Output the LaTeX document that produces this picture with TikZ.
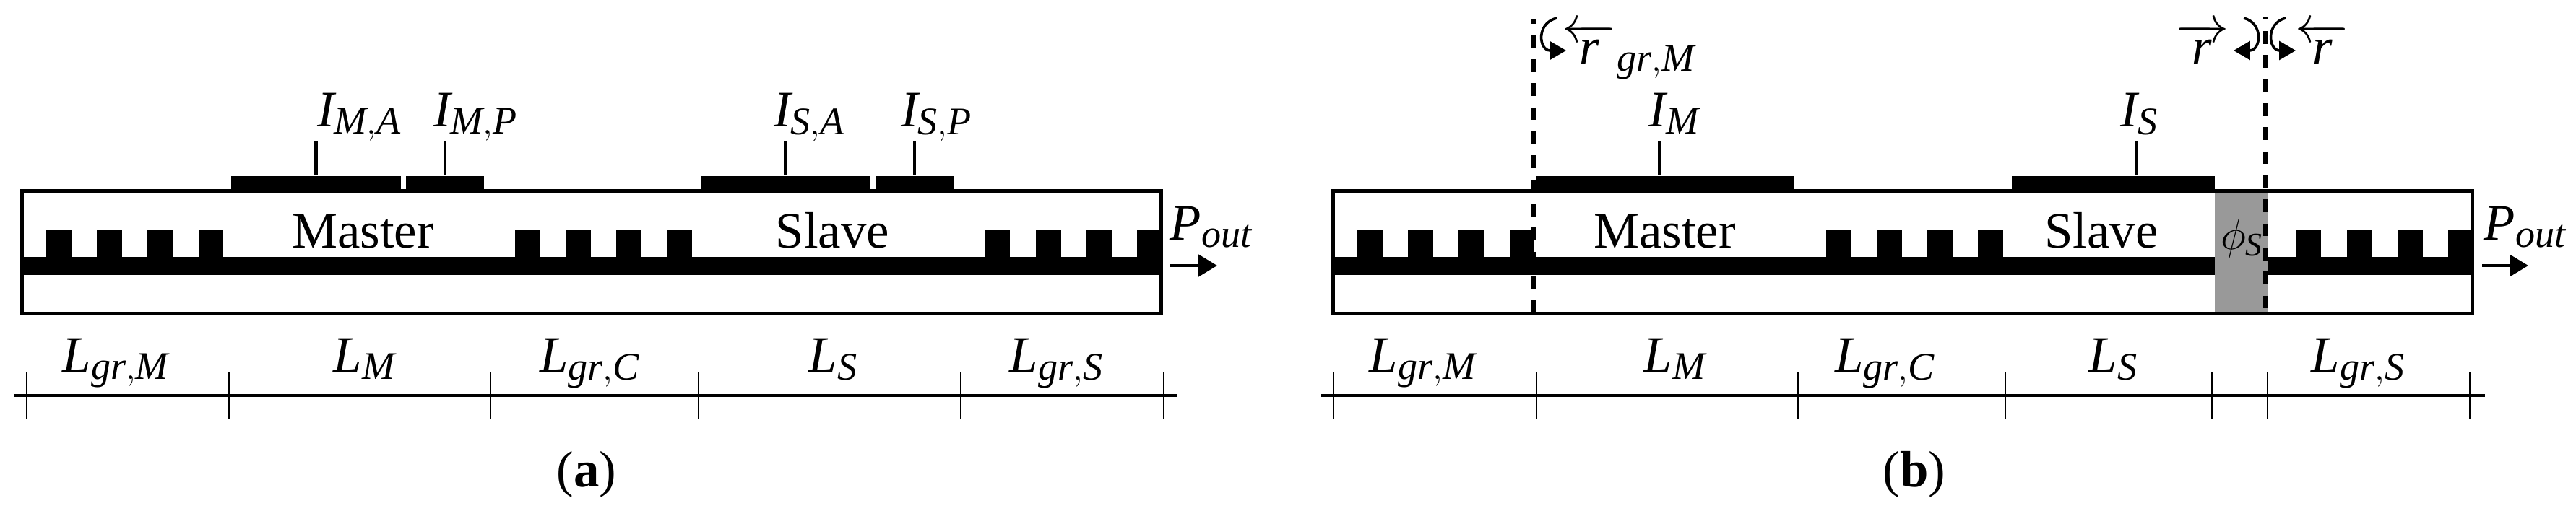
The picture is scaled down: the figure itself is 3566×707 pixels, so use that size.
\documentclass[tikz,border=0pt]{standalone}
\usepackage{fontspec}
\setmainfont{Liberation Serif}
\usetikzlibrary{arrows.meta,positioning}
\definecolor{phase}{HTML}{999999}
\DeclareMathSizes{17}{17}{13}{10}
\DeclareMathSizes{14}{14}{11}{9}
\newcommand{\lsym}[2]{$\mathit{#1}_{\mathit{#2}}$}
\newcommand{\rleft}{\overleftarrow{\mkern6mu\mathit{r}\mkern6mu}}
\newcommand{\rright}{\overrightarrow{\mkern6mu\mathit{r}\mkern6mu}}
\tikzset{
  cavity/.style  = {rectangle, draw=black, fill=white, line width=1.2pt,
                    inner sep=0pt, minimum height=40.8pt, minimum width=378.5pt},
  contact/.style = {rectangle, fill=black, inner sep=0pt, minimum height=4.5pt},
  lbl/.style     = {anchor=base, inner sep=0pt, font=\fontsize{17}{20}\selectfont},
  smalllbl/.style= {anchor=base, inner sep=0pt, font=\fontsize{14}{17}\selectfont},
  wire/.style    = {line width=1pt},
  tick/.style    = {line width=.6pt},
  dimline/.style = {line width=1pt},
  mirror/.style  = {line width=1.45pt, dash pattern=on 4.2pt off 3.8pt},
  outarr/.style  = {-{Triangle[length=6.2pt,width=7.2pt]}, line width=1.05pt},
  rotarr/.style  = {-{Triangle[length=5.5pt,width=6.2pt]}, line width=.85pt}
}
\begin{document}
\begin{tikzpicture}[x=.24pt,y=-.24pt]
  \useasboundingbox (0,0) rectangle (3566,707);
  % devices
  \node[cavity] (boxa) at (819,349.5) {};
  \node[cavity] (boxb) at (2634,349.5) {};
  \fill (30,356) rectangle (1607,381);
  \fill (1846,356) rectangle (3422,381);
  \foreach \o in {0,1815}
    \foreach \x/\w in {64/35,134/35,204/35,275/34,713/34,783/35,853/35,923/35,1363/35,1434/35,1504/35,1574/33}
      \fill (\x+\o,319) rectangle (\x+\o+\w,357);
  \fill[phase] (3066,267) rectangle (3139,432);
  % contacts
  \foreach \n/\x/\w/\d in {cma/437.5/235/0,cmp/616/108/0,csa/1087/234/0,csp/1266/108/0,cm/2305/358/-8,cs/2925.5/281/32.5}{
    \node[contact, minimum width=\w*.24pt] (\n) at (\x,253) {};
    \path (\n.north) ++(\d,0) coordinate (\n b) ++(0,-47) coordinate (\n t);
    \draw[wire] (\n b) -- (\n t);
  }
  % labels
  \node[lbl] (ima) at (498,175) {\lsym{I}{M,A}};
  \node[lbl] (imp) at (659,175) {\lsym{I}{M,P}};
  \node[lbl] (isa) at (1121,175) {\lsym{I}{S,A}};
  \node[lbl] (isp) at (1297,175) {\lsym{I}{S,P}};
  \node[lbl] (im) at (2318,175) {\lsym{I}{M}};
  \node[lbl] (is) at (2962,175) {\lsym{I}{S}};
  \node[lbl] (ma) at (502.5,343) {Master};
  \node[lbl] (sa) at (1152.5,343) {Slave};
  \node[lbl] (mb) at (2304.5,343) {Master};
  \node[lbl] (sb) at (2909,343) {Slave};
  \node[smalllbl] (phi) at (3104,345) {$\phi_{\mathit{S}}$};
  \node[lbl] (pa) at (1677,332) {\lsym{P}{out}};
  \node[lbl] (pb) at (3496,332) {\lsym{P}{out}};
  % output
  \coordinate (oa) at (1620,368);
  \coordinate (ob) at (3436,368);
  \draw[outarr] (oa) -- ++(65,0);
  \draw[outarr] (ob) -- ++(64,0);
  % mirrors
  \coordinate (mma) at (2123,27);
  \coordinate (mmb) at (2123,437);
  \coordinate (msa) at (3136,24);
  \coordinate (msb) at (3136,437);
  \draw[mirror, dash phase=2.76pt] (mma) -- (mmb);
  \draw[mirror, dash phase=3.4pt] (msa) -- (msb);
  % reflections
  \node[lbl] (rgm) at (2255,88) {$\rleft_{\mathit{gr,M}}$};
  \node[lbl] (rs) at (3048,88) {$\rright$};
  \node[lbl] (rp) at (3215,88) {$\rleft$};
  \coordinate (a1s) at (2155,25);
  \coordinate (a1e) at (2168,70);
  \coordinate (a2s) at (3164,25);
  \coordinate (a2e) at (3178,70);
  \coordinate (a3s) at (3106,25);
  \coordinate (a3e) at (3092,70);
  \draw[rotarr] (a1s) .. controls (2126,32) and (2130,70) .. (a1e);
  \draw[rotarr] (a2s) .. controls (3136,32) and (3140,70) .. (a2e);
  \draw[rotarr] (a3s) .. controls (3134,32) and (3130,70) .. (a3e);
  % lengths
  \coordinate (da) at (19,548);
  \coordinate (db) at (1630,548);
  \coordinate (dc) at (1828,548);
  \coordinate (dd) at (3440,548);
  \draw[dimline] (da) -- (db);
  \draw[dimline] (dc) -- (dd);
  \foreach \x in {37,317,679,967,1330,1611,1846,2127,2489,2776,3062,3139,3419}
    \draw[tick] (\x,516) -- (\x,581);
  \node[lbl] (lga) at (161,515) {\lsym{L}{gr,M}};
  \node[lbl] (lma) at (505,515) {\lsym{L}{M}};
  \node[lbl] (lca) at (817,515) {\lsym{L}{gr,C}};
  \node[lbl] (lsa) at (1154,515) {\lsym{L}{S}};
  \node[lbl] (lra) at (1463,515) {\lsym{L}{gr,S}};
  \node[lbl] (lgb) at (1970,515) {\lsym{L}{gr,M}};
  \node[lbl] (lmb) at (2319,515) {\lsym{L}{M}};
  \node[lbl] (lcb) at (2610,515) {\lsym{L}{gr,C}};
  \node[lbl] (lsb) at (2926,515) {\lsym{L}{S}};
  \node[lbl] (lrb) at (3265,515) {\lsym{L}{gr,S}};
  % captions
  \node[lbl] (capa) at (812,674) {(\textbf{a})};
  \node[lbl] (capb) at (2650,674) {(\textbf{b})};
\end{tikzpicture}
\end{document}
